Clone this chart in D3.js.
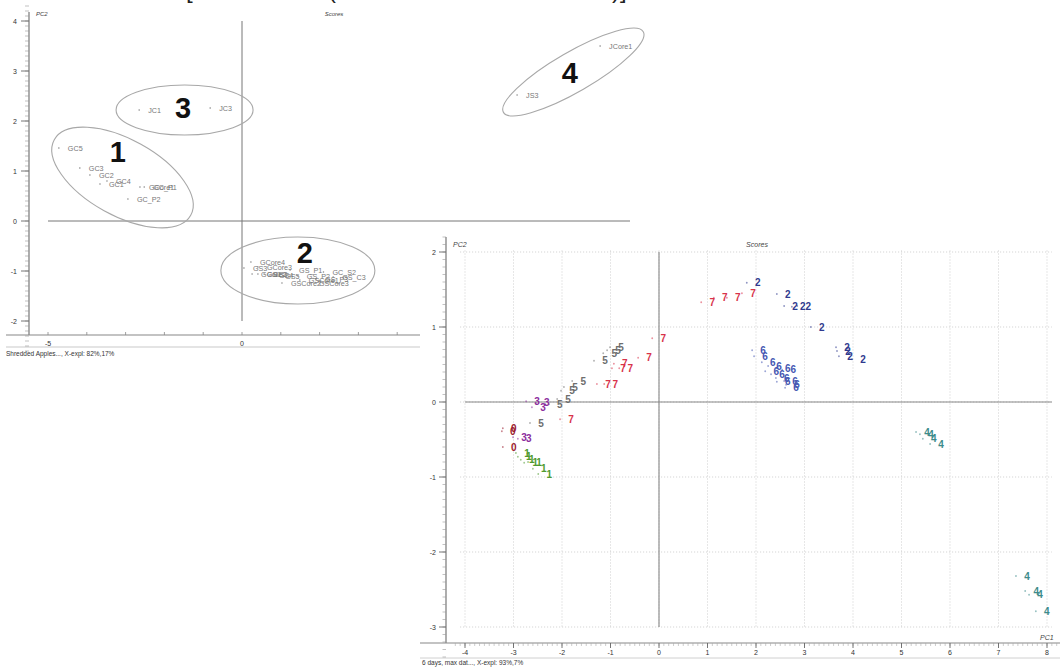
<!DOCTYPE html>
<html>
<head>
<meta charset="utf-8">
<script src="https://cdn.jsdelivr.net/npm/d3@7/dist/d3.min.js"></script>
<style>
  html, body { margin: 0; padding: 0; background: #fff; }
  svg { display: block; font-family: "Liberation Sans", Arial, sans-serif; }
</style>
</head>
<body>
<svg id="chart" width="1060" height="667"></svg>
<script>
// ---------- Panel A: shredded apples, PC1 / PC2 scores ----------
const appleNames = ["GC5", "GC3", "GC2", "GC1", "GC4", "GCore1", "GC_P1", "GC_P2",
  "JC1", "JC3", "JS3", "JCore1",
  "GCore4", "GS3", "GCore3", "GCore2", "GS1", "GS2", "GS4", "GS5", "GS_P1", "GS_P2",
  "GSCore1", "GSCore2", "GSCore3", "GS_P3", "GC_S2", "GS_C3"];
const applePC1 = [-4.72, -4.18, -3.92, -3.66, -3.48, -2.63, -2.52, -2.94,
  -2.65, -0.82, 7.09, 9.23,
  0.23, 0.05, 0.41, 0.26, 0.41, 0.57, 0.72, 0.88, 1.24, 1.44,
  1.49, 1.03, 1.75, 1.91, 2.10, 2.35];
const applePC2 = [1.46, 1.06, 0.92, 0.74, 0.80, 0.68, 0.68, 0.44,
  2.22, 2.26, 2.52, 3.50,
  -0.82, -0.94, -0.92, -1.06, -1.06, -1.06, -1.08, -1.10, -0.98, -1.10,
  -1.18, -1.24, -1.24, -1.16, -1.02, -1.12];
const appleXTicks = [-5, 0, 5, 10];
const appleYTicks = [-2, -1, 0, 1, 2, 3, 4];
// group rings: id, centre (PC1, PC2)
const ringIds = ["1", "3", "2", "4"];
const ringPC1 = [-3.08, -1.48, 1.44, 8.54];
const ringPC2 = [0.87, 2.22, -0.99, 2.98];

// ---------- Panel B: 6 days, scores coloured by class ----------
const dayClass = [
  "7","7","7","7","7","7","7","7","7","7","7","7",
  "2","2","2","2","2","2","2","2","2","2",
  "6","6","6","6","6","6","6","6","6","6","6","6","6",
  "5","5","5","5","5","5","5","5","5","5",
  "3","3","3","3","3",
  "0","0","0",
  "1","1","1","1","1","1","1",
  "4","4","4","4","4","4","4","4"];
const dayPC1 = [
  0.87, 1.13, 1.40, 1.71, -0.14, -0.43, -0.93, -0.97, -0.82, -1.28, -1.13, -2.04,
  1.81, 2.43, 2.58, 2.74, 2.85, 3.13, 3.65, 3.67, 3.71, 3.98,
  1.92, 1.96, 2.12, 2.19, 2.25, 2.31, 2.43, 2.54, 2.41, 2.43, 2.58, 2.60, 2.62,
  -1.79, -1.34, -1.15, -1.07, -1.01, -2.02, -1.96, -2.10, -2.27, -2.66,
  -2.74, -2.62, -2.54, -3.01, -2.91,
  -3.24, -3.22, -3.22,
  -2.95, -2.91, -2.85, -2.78, -2.70, -2.60, -2.49,
  5.30, 5.38, 5.44, 5.59, 7.36, 7.55, 7.63, 7.77];
const dayPC2 = [
  1.33, 1.39, 1.39, 1.45, 0.85, 0.59, 0.51, 0.45, 0.45, 0.24, 0.24, -0.23,
  1.59, 1.44, 1.28, 1.27, 1.28, 1.00, 0.73, 0.68, 0.61, 0.57,
  0.69, 0.61, 0.53, 0.41, 0.48, 0.37, 0.45, 0.43, 0.32, 0.27, 0.28, 0.19, 0.23,
  0.28, 0.55, 0.65, 0.69, 0.73, 0.15, 0.20, 0.04, -0.03, -0.28,
  0.01, -0.07, -0.01, -0.47, -0.49,
  -0.39, -0.35, -0.60,
  -0.68, -0.73, -0.77, -0.81, -0.80, -0.89, -0.96,
  -0.40, -0.43, -0.49, -0.56, -2.32, -2.52, -2.57, -2.79];
const dayClasses = ["7", "2", "6", "5", "3", "0", "1", "4"];
const dayXTicks = [-4, -3, -2, -1, 0, 1, 2, 3, 4, 5, 6, 7, 8];
const dayYTicks = [-3, -2, -1, 0, 1, 2];

// ---------- drawing ----------
const svg = d3.select("#chart");
svg.append("rect").attr("width", 1060).attr("height", 667).attr("fill", "#fff");

// heading glyphs running off the top edge
svg.append("g").attr("font-size", 24).attr("fill", "#222")
  .selectAll("text").data([["[", 186], ["(", 328], [")]", 612]]).join("text")
  .attr("x", d => d[1]).attr("y", -2).text(d => d[0]);

/* ===== Panel A ===== */
const gA = svg.append("g");
const xA = d3.scaleLinear().domain([-5, 0]).range([48, 242]);
const yA = d3.scaleLinear().domain([0, 4]).range([221, 21]);

// axis frame
gA.append("line").attr("x1", 29).attr("x2", 29).attr("y1", 12).attr("y2", 335)
  .attr("stroke", "#777").attr("stroke-width", 1.2);
gA.append("line").attr("x1", 6).attr("x2", 640).attr("y1", 335).attr("y2", 335)
  .attr("stroke", "#888").attr("stroke-width", 1.2);
gA.append("line").attr("x1", 6).attr("x2", 640).attr("y1", 347).attr("y2", 347)
  .attr("stroke", "#bbb").attr("stroke-width", 0.8);

// y axis ticks (minor every 0.1)
const yAminor = d3.range(-2.6, 4.31, 0.1);
gA.append("g").selectAll("line").data(yAminor).join("line")
  .attr("x1", 25).attr("x2", 29).attr("y1", d => yA(d)).attr("y2", d => yA(d))
  .attr("stroke", "#999").attr("stroke-width", 0.6);
gA.append("g").selectAll("line").data(appleYTicks).join("line")
  .attr("x1", 21).attr("x2", 29).attr("y1", d => yA(d)).attr("y2", d => yA(d))
  .attr("stroke", "#666").attr("stroke-width", 0.9);
gA.append("g").selectAll("text").data(appleYTicks).join("text")
  .attr("x", 17).attr("y", d => yA(d) + 2.5).attr("text-anchor", "end")
  .attr("font-size", 7).attr("fill", "#333").text(d => d);

// x axis ticks
gA.append("g").selectAll("line").data(d3.range(-5, 11, 1)).join("line")
  .attr("x1", d => xA(d)).attr("x2", d => xA(d)).attr("y1", 332).attr("y2", 335)
  .attr("stroke", "#888").attr("stroke-width", 0.8);
gA.append("g").selectAll("text").data(appleXTicks).join("text")
  .attr("x", d => xA(d)).attr("y", 346).attr("text-anchor", "middle")
  .attr("font-size", 7).attr("fill", "#333").text(d => d);

gA.append("text").attr("x", 36).attr("y", 16).attr("font-size", 6)
  .attr("font-style", "italic").attr("fill", "#444").text("PC2");
gA.append("text").attr("x", 334).attr("y", 16).attr("font-size", 6).attr("text-anchor", "middle")
  .attr("font-style", "italic").attr("fill", "#444").text("Scores");
gA.append("text").attr("x", 6).attr("y", 356).attr("font-size", 6.5)
  .attr("fill", "#333").text("Shredded Apples..., X-expl: 82%,17%");

// origin cross
gA.append("line").attr("x1", xA(-5)).attr("x2", xA(10)).attr("y1", yA(0)).attr("y2", yA(0))
  .attr("stroke", "#777").attr("stroke-width", 1);
gA.append("line").attr("x1", xA(0)).attr("x2", xA(0)).attr("y1", yA(4)).attr("y2", yA(-2))
  .attr("stroke", "#777").attr("stroke-width", 1);

// group rings
const ringShape = { "1": [78, 38, 29], "3": [68.5, 25, 0], "2": [77, 33.5, 0], "4": [80.7, 20, -30] };
const rings = ringIds.map((id, i) => ({ id, cx: xA(ringPC1[i]), cy: yA(ringPC2[i]) }));
gA.append("g").selectAll("ellipse").data(rings).join("ellipse")
  .attr("cx", 0).attr("cy", 0)
  .attr("rx", d => ringShape[d.id][0]).attr("ry", d => ringShape[d.id][1])
  .attr("transform", d => `translate(${d.cx},${d.cy}) rotate(${ringShape[d.id][2]})`)
  .attr("fill", "none").attr("stroke", "#a8a8a8").attr("stroke-width", 1.1);

// group numbers
const ringLabelPos = { "1": [-3.20, 1.18], "3": [-1.52, 2.06], "2": [1.62, -0.84], "4": [8.45, 2.76] };
gA.append("g").selectAll("text").data(ringIds).join("text")
  .attr("x", d => xA(ringLabelPos[d][0])).attr("y", d => yA(ringLabelPos[d][1]))
  .attr("text-anchor", "middle").attr("font-size", 29).attr("font-weight", "bold")
  .attr("fill", "#111").text(d => d);

// sample scores
const apples = appleNames.map((n, i) => ({ n, x: applePC1[i], y: applePC2[i] }));
gA.append("g").selectAll("circle").data(apples).join("circle")
  .attr("cx", d => xA(d.x)).attr("cy", d => yA(d.y)).attr("r", 0.8).attr("fill", "#888");
gA.append("g").selectAll("text").data(apples).join("text")
  .attr("x", d => xA(d.x) + 9).attr("y", d => yA(d.y) + 2.5)
  .attr("font-size", 7.2).attr("fill", "#777").text(d => d.n);

/* ===== Panel B ===== */
const gB = svg.append("g");
gB.append("rect").attr("x", 420).attr("y", 232).attr("width", 640).attr("height", 435).attr("fill", "#fff");
const xB = d3.scaleLinear().domain([-4, 8]).range([465, 1047]);
const yB = d3.scaleLinear().domain([-3, 2]).range([627, 252]);

// dotted grid
gB.append("g").selectAll("line").data(dayXTicks).join("line")
  .attr("x1", d => xB(d)).attr("x2", d => xB(d)).attr("y1", yB(2.02)).attr("y2", yB(-3.02))
  .attr("stroke", "#cfcfcf").attr("stroke-width", 1).attr("stroke-dasharray", "1,2");
gB.append("g").selectAll("line").data(dayYTicks).join("line")
  .attr("x1", xB(-4.1)).attr("x2", xB(8.1)).attr("y1", d => yB(d)).attr("y2", d => yB(d))
  .attr("stroke", "#cfcfcf").attr("stroke-width", 1).attr("stroke-dasharray", "1,2");

// axis frame
gB.append("line").attr("x1", 446).attr("x2", 446).attr("y1", 237).attr("y2", 643)
  .attr("stroke", "#777").attr("stroke-width", 1.2);
gB.append("line").attr("x1", 420).attr("x2", 1060).attr("y1", 643).attr("y2", 643)
  .attr("stroke", "#888").attr("stroke-width", 1.2);
gB.append("line").attr("x1", 420).attr("x2", 1060).attr("y1", 658).attr("y2", 658)
  .attr("stroke", "#c4c4c4").attr("stroke-width", 0.8);

gB.append("g").selectAll("line").data(d3.range(-3.4, 2.21, 0.1)).join("line")
  .attr("x1", 442.5).attr("x2", 446).attr("y1", d => yB(d)).attr("y2", d => yB(d))
  .attr("stroke", "#999").attr("stroke-width", 0.6);
gB.append("g").selectAll("line").data(dayYTicks).join("line")
  .attr("x1", 439).attr("x2", 446).attr("y1", d => yB(d)).attr("y2", d => yB(d))
  .attr("stroke", "#666").attr("stroke-width", 0.9);
gB.append("g").selectAll("text").data(dayYTicks).join("text")
  .attr("x", 436).attr("y", d => yB(d) + 2.5).attr("text-anchor", "end")
  .attr("font-size", 7).attr("fill", "#333").text(d => d);

gB.append("g").selectAll("line").data(d3.range(-4.2, 8.21, 0.1)).join("line")
  .attr("x1", d => xB(d)).attr("x2", d => xB(d)).attr("y1", 643).attr("y2", 646)
  .attr("stroke", "#aaa").attr("stroke-width", 0.6);
gB.append("g").selectAll("line").data(dayXTicks).join("line")
  .attr("x1", d => xB(d)).attr("x2", d => xB(d)).attr("y1", 643).attr("y2", 648)
  .attr("stroke", "#666").attr("stroke-width", 0.9);
gB.append("g").selectAll("text").data(dayXTicks).join("text")
  .attr("x", d => xB(d)).attr("y", 655).attr("text-anchor", "middle")
  .attr("font-size", 7).attr("fill", "#333").text(d => d);

gB.append("text").attr("x", 453).attr("y", 247).attr("font-size", 7)
  .attr("font-style", "italic").attr("fill", "#444").text("PC2");
gB.append("text").attr("x", 757).attr("y", 247).attr("font-size", 7).attr("text-anchor", "middle")
  .attr("font-style", "italic").attr("fill", "#444").text("Scores");
gB.append("text").attr("x", 1040).attr("y", 640).attr("font-size", 7)
  .attr("font-style", "italic").attr("fill", "#444").text("PC1");
gB.append("text").attr("x", 422).attr("y", 665).attr("font-size", 6.5)
  .attr("fill", "#333").text("6 days, max dat..., X-expl: 93%,7%");

// origin cross
gB.append("line").attr("x1", xB(-4)).attr("x2", xB(8.1)).attr("y1", yB(0)).attr("y2", yB(0))
  .attr("stroke", "#888").attr("stroke-width", 1.1);
gB.append("line").attr("x1", xB(0)).attr("x2", xB(0)).attr("y1", yB(2)).attr("y2", yB(-3))
  .attr("stroke", "#888").attr("stroke-width", 1.1);

// class colours
const classColour = d3.scaleOrdinal().domain(dayClasses)
  .range(["#d8334a", "#2f3a8e", "#4657b2", "#6e6e6e", "#8b2d9d", "#9b1b2e", "#4f9a2f", "#3d8b8b"]);

const days = dayClass.map((c, i) => ({ c, x: dayPC1[i], y: dayPC2[i] }));
gB.append("g").selectAll("circle").data(days).join("circle")
  .attr("cx", d => xB(d.x)).attr("cy", d => yB(d.y)).attr("r", 0.9)
  .attr("fill", d => classColour(d.c)).attr("opacity", 0.55);
gB.append("g").selectAll("text").data(days).join("text")
  .attr("x", d => xB(d.x) + 11).attr("y", d => yB(d.y) + 3.5)
  .attr("text-anchor", "middle").attr("font-size", 10).attr("font-weight", "bold")
  .attr("fill", d => classColour(d.c)).text(d => d.c);
</script>
</body>
</html>
